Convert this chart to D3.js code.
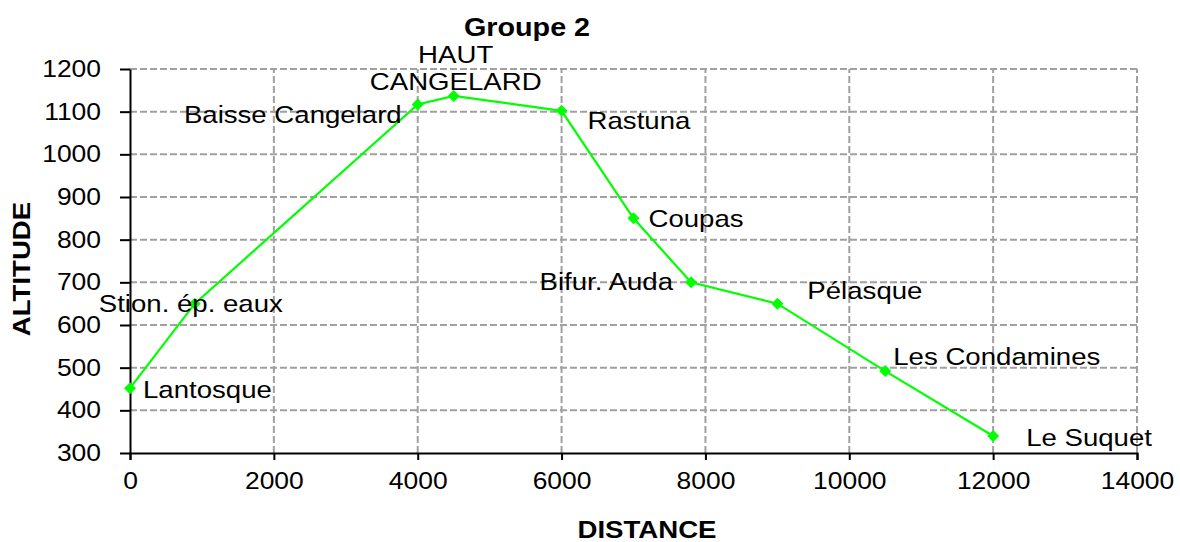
<!DOCTYPE html>
<html>
<head>
<meta charset="utf-8">
<script src="https://cdn.jsdelivr.net/npm/d3@7"></script>
<style>
  html, body { margin: 0; padding: 0; background: #fff; }
  svg { display: block; font-family: Arial, "Liberation Sans", sans-serif; }
</style>
</head>
<body>
<svg id="chart" width="1180" height="542"></svg>
<script>
// ---- data ----
const places = ["Lantosque", "Stion. ép. eaux", "Baisse Cangelard", "HAUT\nCANGELARD", "Rastuna",
                "Coupas", "Bifur. Auda", "Pélasque", "Les Condamines", "Le Suquet"];
const distances = [0, 900, 4000, 4500, 6000, 7000, 7800, 9000, 10500, 12000];
const altitudes = [452, 650, 1117, 1137, 1102, 850, 700, 650, 492, 340];
const xTicks = [0, 2000, 4000, 6000, 8000, 10000, 12000, 14000];
const yTicks = [300, 400, 500, 600, 700, 800, 900, 1000, 1100, 1200];
const chartTitle = "Groupe 2";
const xTitle = "DISTANCE";
const yTitle = "ALTITUDE";

// ---- label layout (offsets from point, px) ----
const labelLayout = [
  {dx: 13, dy: 10, anchor: "start"},
  {dx: -96, dy: 8, anchor: "start"},
  {dx: -16, dy: 19, anchor: "end"},
  {dx: 2, dy: -33, anchor: "middle"},
  {dx: 26, dy: 18, anchor: "start"},
  {dx: 15, dy: 9, anchor: "start"},
  {dx: -18, dy: 8, anchor: "end"},
  {dx: 30, dy: -5, anchor: "start"},
  {dx: 8, dy: -6, anchor: "start"},
  {dx: 33, dy: 10, anchor: "start"}
];

const SX = 1.15; // horizontal text stretch of the original
const margin = {left: 130, right: 43, top: 69, bottom: 89};
const W = 1180, H = 542;
const svg = d3.select("#chart");

const x = d3.scaleLinear().domain([0, 14000]).range([margin.left, W - margin.right]);
const y = d3.scaleLinear().domain([300, 1200]).range([H - margin.bottom, margin.top]);

const points = distances.map((d, i) => ({d, a: altitudes[i], name: places[i], lay: labelLayout[i]}));

// gridlines
const grid = svg.append("g").attr("stroke", "#a0a0a0").attr("stroke-width", 2).attr("stroke-dasharray", "7,3");
grid.selectAll("line.h").data(yTicks.filter(v => v !== 300)).join("line")
  .attr("x1", x(0)).attr("x2", x(14000)).attr("y1", d => y(d)).attr("y2", d => y(d));
grid.selectAll("line.v").data(xTicks.filter(v => v !== 0)).join("line")
  .attr("y1", y(300)).attr("y2", y(1200)).attr("x1", d => x(d)).attr("x2", d => x(d));

function stretchTicks(g) {
  g.selectAll(".tick text").each(function() {
    const t = d3.select(this);
    const tx = +t.attr("x") || 0;
    const ty = +t.attr("y") || 0;
    t.attr("x", 0).attr("y", 0).attr("transform", `translate(${tx},${ty}) scale(${SX},1)`);
  });
}

// axes
const xAxis = svg.append("g").attr("transform", `translate(0,${y(300)})`)
  .call(d3.axisBottom(x).tickValues(xTicks).tickFormat(d3.format("d")).tickSize(7).tickSizeOuter(7).tickPadding(13));
const yAxis = svg.append("g").attr("transform", `translate(${x(0)},0)`)
  .call(d3.axisLeft(y).tickValues(yTicks).tickFormat(d3.format("d")).tickSize(10).tickSizeOuter(0).tickPadding(19));
[xAxis, yAxis].forEach(g => {
  g.select(".domain").attr("stroke", "#000").attr("stroke-width", 2);
  g.selectAll(".tick line").attr("stroke", "#000").attr("stroke-width", 2);
  g.selectAll(".tick text").attr("fill", "#000").attr("font-size", 23)
    .attr("font-family", "Arial, 'Liberation Sans', sans-serif");
  stretchTicks(g);
});

// line
svg.append("path").datum(points)
  .attr("fill", "none").attr("stroke", "#00ff00").attr("stroke-width", 2.2)
  .attr("d", d3.line().x(p => x(p.d)).y(p => y(p.a)));

// diamond markers
svg.append("g").selectAll("path").data(points).join("path")
  .attr("fill", "#00ff00")
  .attr("d", p => {
    const cx = x(p.d), cy = y(p.a), r = 6;
    return `M${cx},${cy - r}L${cx + r},${cy}L${cx},${cy + r}L${cx - r},${cy}Z`;
  });

// labels
const labels = svg.append("g").attr("font-size", 24).attr("fill", "#000");
points.forEach(p => {
  const lines = p.name.split("\n");
  const lx = x(p.d) + p.lay.dx;
  lines.forEach((ln, k) => {
    const ly = y(p.a) + p.lay.dy + k * 27;
    labels.append("text")
      .attr("text-anchor", p.lay.anchor)
      .attr("transform", `translate(${lx},${ly}) scale(${SX},1)`)
      .text(ln);
  });
});

// titles
svg.append("text").attr("text-anchor", "middle").attr("font-weight", "bold").attr("font-size", 25)
  .attr("transform", `translate(527,36) scale(${SX},1)`).text(chartTitle);
svg.append("text").attr("text-anchor", "middle").attr("font-weight", "bold").attr("font-size", 24)
  .attr("transform", `translate(647,538) scale(${SX},1)`).text(xTitle);
svg.append("text").attr("text-anchor", "middle").attr("font-weight", "bold").attr("font-size", 24)
  .attr("transform", `translate(30,269) rotate(-90) scale(${SX},1)`).text(yTitle);
</script>
</body>
</html>
